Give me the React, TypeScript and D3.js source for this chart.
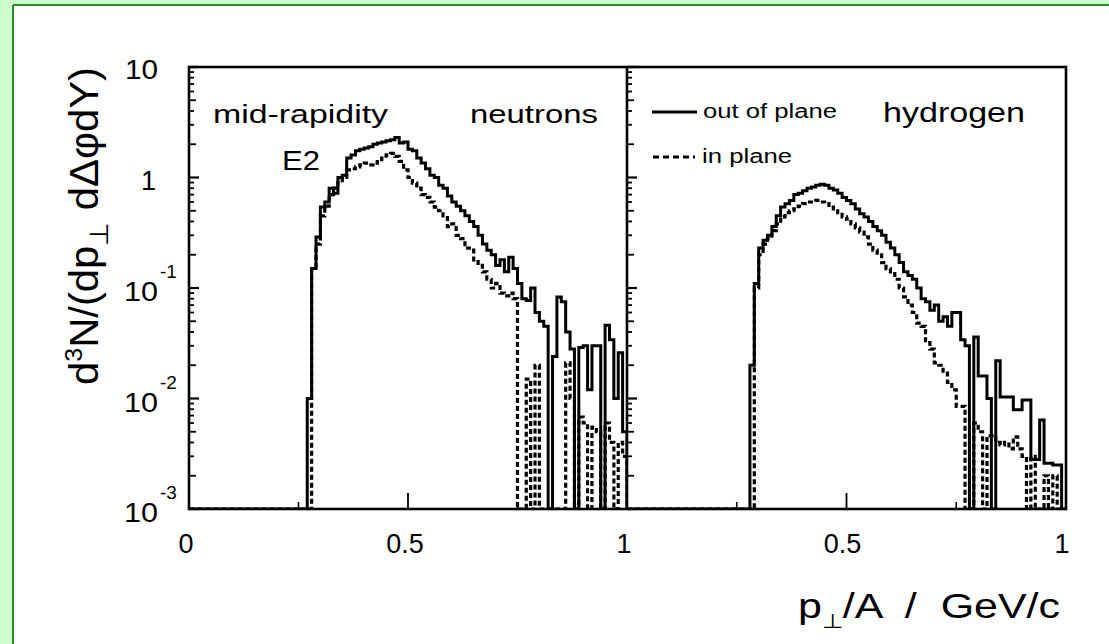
import React from "react";
import * as d3 from "d3";

// ---- data (bin width 0.01 in p_perp/A, first bin starts at 0.26) ----
const BIN_START = 0.26;
const BIN_WIDTH = 0.01;

const neutronsOut = [
  0, 0.01, 0.15, 0.29, 0.54, 0.6, 0.8, 0.72, 1.0, 1.05,
  1.5, 1.6, 1.75, 1.8, 1.85, 1.9, 2.0, 2.05, 2.1, 2.15,
  2.2, 2.3, 2.05, 2.1, 1.8, 1.75, 1.5, 1.35, 1.2, 1.05,
  1.0, 0.85, 0.8, 0.68, 0.6, 0.55, 0.5, 0.45, 0.4, 0.36,
  0.3, 0.25, 0.22, 0.2, 0.16, 0.18, 0.14, 0.19, 0.15, 0.11,
  0.08, 0.077, 0.1, 0.06, 0.05, 0.045, 0, 0.024, 0.083, 0.075,
  0.04, 0.028, 0, 0.029, 0.03, 0.012, 0.03, 0.03, 0, 0.046,
  0.034, 0.01, 0.026, 0.005,
];

const neutronsIn = [
  0, 0, 0.15, 0.25, 0.45, 0.55, 0.7, 0.8, 0.9, 1.0,
  1.17, 1.2, 1.25, 1.3, 1.35, 1.3, 1.35, 1.45, 1.5, 1.6,
  1.65, 1.55, 1.4, 1.17, 1.0, 0.89, 0.8, 0.7, 0.66, 0.6,
  0.54, 0.5, 0.45, 0.36, 0.38, 0.3, 0.28, 0.23, 0.22, 0.18,
  0.16, 0.14, 0.12, 0.1, 0.11, 0.09, 0.085, 0.09, 0.08, 0,
  0, 0.015, 0, 0.02, 0, 0, 0, 0, 0, 0,
  0.021, 0.01, 0, 0.0068, 0.006, 0, 0.0055, 0.005, 0, 0.006,
  0.004, 0, 0.004, 0.003,
];

const hydrogenOut = [
  0, 0, 0.02, 0.11, 0.23, 0.27, 0.3, 0.36, 0.45, 0.54,
  0.58, 0.62, 0.7, 0.72, 0.76, 0.8, 0.82, 0.85, 0.87, 0.85,
  0.8, 0.77, 0.72, 0.66, 0.62, 0.58, 0.52, 0.47, 0.44, 0.4,
  0.36, 0.33, 0.3, 0.26, 0.23, 0.2, 0.17, 0.14, 0.13, 0.12,
  0.1, 0.08, 0.075, 0.063, 0.07, 0.05, 0.055, 0.045, 0.06, 0.06,
  0.034, 0.03, 0, 0.036, 0.016, 0.016, 0.01, 0, 0.022, 0.0103,
  0.0103, 0.0103, 0.0079, 0.0079, 0.0097, 0.0097, 0.0028, 0.0028, 0.0064, 0.0026,
  0.0026, 0.0025, 0.0025, 0,
];

const hydrogenIn = [
  0, 0, 0, 0.1, 0.2, 0.25, 0.28, 0.33, 0.38, 0.44,
  0.48, 0.5, 0.52, 0.55, 0.58, 0.6, 0.6, 0.62, 0.6, 0.58,
  0.56, 0.52, 0.48, 0.44, 0.42, 0.38, 0.35, 0.32, 0.29, 0.25,
  0.22, 0.2, 0.17, 0.15, 0.14, 0.12, 0.1, 0.083, 0.07, 0.06,
  0.048, 0.045, 0.032, 0.028, 0.021, 0.02, 0.017, 0.014, 0.012, 0.0085,
  0.0085, 0, 0, 0.006, 0.005, 0, 0.0046, 0.0046, 0.004, 0.0038,
  0.004, 0.0035, 0.0045, 0.0035, 0.003, 0, 0.003, 0, 0, 0.002,
  0, 0.002, 0, 0,
];

const xTicksMajor = [0.5];
const xTicksMinor = [0.25, 0.75];
const yDecades = [-3, -2, -1, 0, 1];
const leftXLabels = ["0", "0.5", "1"];
const leftXLabelValues = [0, 0.5, 1];
const rightXLabels = ["0.5", "1"];
const rightXLabelValues = [0.5, 1];

const W = 1109;
const H = 644;
const TOP = 67;
const BOTTOM = 509;
const LEFT0 = 189;
const MID = 627;
const RIGHT1 = 1066;
const FONT = "'Liberation Sans', Arial, Helvetica, sans-serif";

const y = d3.scaleLog().domain([1e-3, 10]).range([BOTTOM, TOP]).clamp(true);
const xL = d3.scaleLinear().domain([0, 1]).range([LEFT0, MID]);
const xR = d3.scaleLinear().domain([0, 1]).range([MID, RIGHT1]);

function histPath(values: number[], x: d3.ScaleLinear<number, number>) {
  const pts: [number, number][] = [[0, 1e-6]];
  values.forEach((v, i) => pts.push([BIN_START + i * BIN_WIDTH, v > 0 ? v : 1e-6]));
  const end = BIN_START + values.length * BIN_WIDTH;
  pts.push([end, values[values.length - 1] > 0 ? values[values.length - 1] : 1e-6]);
  pts.push([end, 1e-6]);
  const line = d3
    .line<[number, number]>()
    .x((d) => x(d[0]))
    .y((d) => y(d[1]))
    .curve(d3.curveStepAfter);
  return line(pts) || "";
}

function yTicks(x0: number, dir: number, keyPrefix: string) {
  const out: React.ReactNode[] = [];
  yDecades.forEach((e) => {
    const base = Math.pow(10, e);
    out.push(
      <line key={`${keyPrefix}M${e}`} x1={x0} x2={x0 + dir * 10} y1={y(base)} y2={y(base)} stroke="#000" strokeWidth={2.2} />
    );
    if (e < 1) {
      for (let m = 2; m <= 9; m++) {
        const v = base * m;
        const len = m === 2 || m === 5 ? 7 : 5;
        out.push(
          <line key={`${keyPrefix}m${e}_${m}`} x1={x0} x2={x0 + dir * len} y1={y(v)} y2={y(v)} stroke="#000" strokeWidth={1.8} />
        );
      }
    }
  });
  return out;
}

function xTicks(x: d3.ScaleLinear<number, number>, keyPrefix: string) {
  const out: React.ReactNode[] = [];
  xTicksMajor.forEach((t) =>
    out.push(<line key={`${keyPrefix}M${t}`} x1={x(t)} x2={x(t)} y1={BOTTOM} y2={BOTTOM - 16} stroke="#000" strokeWidth={1.8} />)
  );
  xTicksMinor.forEach((t) =>
    out.push(<line key={`${keyPrefix}m${t}`} x1={x(t)} x2={x(t)} y1={BOTTOM} y2={BOTTOM - 7} stroke="#000" strokeWidth={1.6} />)
  );
  return out;
}

function YLabel({ e }: { e: number }) {
  const yy = y(Math.pow(10, e));
  if (e === 0) {
    return (
      <text x={156} y={yy + 12} fontSize={27} textAnchor="end" fontFamily={FONT}>1</text>
    );
  }
  if (e === 1) {
    return (
      <text x={158} y={yy + 12} fontSize={27} textAnchor="end" fontFamily={FONT} textLength={33} lengthAdjust="spacingAndGlyphs">10</text>
    );
  }
  return (
    <g>
      <text x={158} y={yy + 13} fontSize={27} textAnchor="end" fontFamily={FONT} textLength={34} lengthAdjust="spacingAndGlyphs">10</text>
      <text x={160} y={yy - 10} fontSize={19} fontFamily={FONT}>{`-${-e}`}</text>
    </g>
  );
}

export default function App() {
  return (
    <svg
      width={W}
      height={H}
      viewBox={`0 0 ${W} ${H}`}
      style={{ position: "absolute", left: 0, top: 0, display: "block" }}
    >
      <defs>
        <clipPath id="clipL">
          <rect x={LEFT0} y={TOP} width={MID - LEFT0} height={BOTTOM - TOP} />
        </clipPath>
        <clipPath id="clipR">
          <rect x={MID} y={TOP} width={RIGHT1 - MID} height={BOTTOM - TOP} />
        </clipPath>
      </defs>
      <rect x={0} y={0} width={W} height={H} fill="#ccffcc" />
      <rect x={13} y={5} width={W - 13} height={H - 5} fill="#ffffff" />
      <line x1={13} x2={13} y1={5} y2={H} stroke="#2e8b2e" strokeWidth={2} />
      <line x1={13} x2={W} y1={5} y2={5} stroke="#2e8b2e" strokeWidth={2} />

      {/* histograms */}
      <g clipPath="url(#clipL)" fill="none" stroke="#000">
        <path d={histPath(neutronsIn, xL)} strokeWidth={3.2} strokeDasharray="5,3" />
        <path d={histPath(neutronsOut, xL)} strokeWidth={3} />
      </g>
      <g clipPath="url(#clipR)" fill="none" stroke="#000">
        <path d={histPath(hydrogenIn, xR)} strokeWidth={3.2} strokeDasharray="5,3" />
        <path d={histPath(hydrogenOut, xR)} strokeWidth={3} />
      </g>

      {/* frame */}
      <rect x={LEFT0} y={TOP} width={RIGHT1 - LEFT0} height={BOTTOM - TOP} fill="none" stroke="#000" strokeWidth={2.6} />
      <line x1={MID} x2={MID} y1={TOP} y2={BOTTOM} stroke="#000" strokeWidth={2.6} />
      {yTicks(LEFT0, 1, "L")}
      {yTicks(MID, 1, "R")}
      {xTicks(xL, "xl")}
      {xTicks(xR, "xr")}

      {/* y tick labels */}
      {yDecades.map((e) => (
        <YLabel key={e} e={e} />
      ))}

      {/* x tick labels */}
      {leftXLabels.map((t, i) => (
        <text key={`lx${t}`} x={xL(leftXLabelValues[i]) - 3} y={553} fontSize={27} textAnchor="middle" fontFamily={FONT}>{t}</text>
      ))}
      {rightXLabels.map((t, i) => (
        <text key={`rx${t}`} x={xR(rightXLabelValues[i]) - 4} y={553} fontSize={27} textAnchor="middle" fontFamily={FONT}>{t}</text>
      ))}

      {/* y axis title */}
      <text
        transform="translate(98,226) rotate(-90)"
        x={0}
        y={0}
        fontSize={40}
        textAnchor="middle"
        fontFamily={FONT}
        textLength={318}
        lengthAdjust="spacingAndGlyphs"
      >
        d<tspan dy={-16} fontSize={24}>3</tspan>
        <tspan dy={16}>N/(dp</tspan>
        <tspan dy={10} fontSize={26}>⊥</tspan>
        <tspan dy={-10}> dΔφdY)</tspan>
      </text>

      {/* x axis title */}
      <text x={798} y={618} fontSize={35} fontFamily={FONT} textLength={262} lengthAdjust="spacingAndGlyphs" style={{ whiteSpace: "pre" }}>
        p<tspan dy={10} fontSize={20}>⊥</tspan>
        <tspan dy={-10}>{"/A  /  GeV/c"}</tspan>
      </text>

      {/* panel annotations */}
      <text x={213} y={123} fontSize={26} fontFamily={FONT} textLength={175} lengthAdjust="spacingAndGlyphs">mid-rapidity</text>
      <text x={282} y={170} fontSize={27} fontFamily={FONT} textLength={38} lengthAdjust="spacingAndGlyphs">E2</text>
      <text x={470} y={123} fontSize={26} fontFamily={FONT} textLength={128} lengthAdjust="spacingAndGlyphs">neutrons</text>
      <text x={883} y={122} fontSize={27} fontFamily={FONT} textLength={142} lengthAdjust="spacingAndGlyphs">hydrogen</text>

      {/* legend */}
      <line x1={652} x2={697} y1={112} y2={112} stroke="#000" strokeWidth={2.8} />
      <text x={703} y={118} fontSize={20} fontFamily={FONT} textLength={134} lengthAdjust="spacingAndGlyphs">out of plane</text>
      <line x1={653} x2={695} y1={157} y2={157} stroke="#000" strokeWidth={3} strokeDasharray="6,4" />
      <text x={702} y={163} fontSize={20} fontFamily={FONT} textLength={90} lengthAdjust="spacingAndGlyphs">in plane</text>
    </svg>
  );
}
